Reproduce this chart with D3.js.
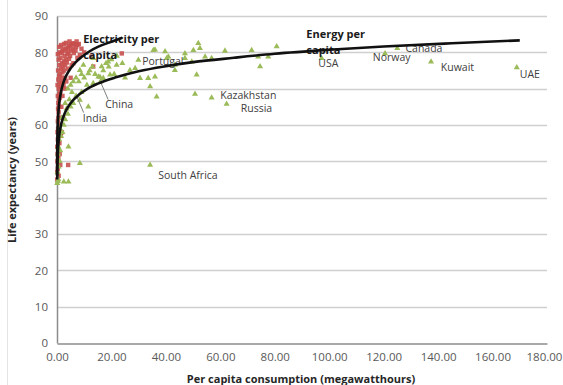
<!DOCTYPE html>
<html><head><meta charset="utf-8">
<script src="https://cdn.jsdelivr.net/npm/d3@7"></script>
<style>body{margin:0;background:#fff;}svg{display:block;}</style>
</head><body>
<svg id="c" width="563" height="385"></svg>
<script>
// ---- data ----
const xTicks = [0,20,40,60,80,100,120,140,160,180];
const yTicks = [0,10,20,30,40,50,60,70,80,90];

// Electricity per capita (MWh) vs life expectancy - red markers
const electricity = [
[0.05,45],[0.1,47],[0.15,50],[0.2,52],[0.1,54],[0.3,56],[0.2,58],[0.4,59],[0.3,61],[0.5,62],
[0.6,63.5],[0.4,64.5],[0.8,65],[0.5,66],[0.7,67],[1.0,67.5],[0.3,68],[0.9,68.5],[1.2,69],[0.6,70],
[1.4,70.5],[0.2,71],[1.0,71.5],[1.6,72],[0.5,72.5],[1.8,73],[0.8,73.5],[1.2,74],[2.0,74.5],[0.4,75],
[1.5,75.5],[2.2,76],[0.9,76.5],[1.8,77],[2.5,77.5],[0.6,78],[1.3,78.5],[2.8,79],[0.3,79.5],[1.0,80],
[2.0,80.3],[3.0,80.6],[3.5,81],[4.0,81.3],[4.5,81.7],[5.0,82],[5.5,82.3],[6.0,82.5],[6.5,82.2],[7.0,81.5],
[7.5,82],[3.2,78],[3.8,79.5],[4.2,80],[4.8,79],[5.2,80.5],[5.8,81],[6.2,79.8],[2.6,75],[3.0,76.5],
[3.6,77.2],[4.4,78.2],[2.4,71],[2.0,68],[1.6,65],[1.1,62],[0.7,60],[3.0,73],[2.8,70],[4.0,75.5],
[1.4,57],[0.9,55],[0.5,51],[1.2,49],[0.3,48],[4.1,49],[5.4,76.5],[8.4,79.3],[12.7,78.8],[13.3,76.1],
[23.8,79.7],[7.5,78.5],[6.8,80.5],[9.0,81],[8.0,82.3],[10.0,80],[5.0,73],[3.4,72],[6.0,77],[1.7,79.8],
[2.3,81],[0.8,81.5],[1.5,82],[2.6,82.3],[3.3,82.6],[4.6,83],[7.2,83],[2.2,62],[1.8,58],[0.6,46],[1.0,52]
];

// Energy per capita (MWh) vs life expectancy - green triangles
const energy = [
[0.1,44],[0.3,44.5],[0.5,45],[2.5,44.4],[4.2,44.4],[0.2,47],[0.6,48.5],[1.0,50],[8.4,49.5],[0.4,52],
[1.2,53],[0.5,54],[4.2,54],[0.8,56],[1.5,57],[2.0,58],[1.0,59],[2.5,60],[3.0,61.5],[1.8,62],
[4.0,63],[3.5,64.5],[5.0,65],[11.5,65],[8.4,66.9],[6.0,66],[4.5,67],[7.0,68],[9.0,69],[3.0,66],
[5.5,69],[4,70],[5,71],[6,72],[7,73],[8,72],[9,74],[10,73],[11,71],[12,75],
[13,76],[14,74],[15.8,73.2],[16,72],[17,75],[18,77],[19,76],[20,78],[21,74],[22,79],
[24,77],[25,73],[9.7,76.5],[13.3,78.4],[16.4,76.1],[18.8,77.4],[21.9,76.5],[15.2,73.3],[17,72.9],[11.5,74.2],
[8.4,75.1],[19.5,73.8],[13.3,71.5],[26.8,75.1],[28.7,75.6],[29.9,77.9],[30.5,72.9],[33.5,72.9],[36,73.3],[34.2,70.6],
[36.6,67.8],[35.4,80.6],[36,80.7],[39.7,80.2],[40.9,78.8],[40.3,78.4],[43.3,75.1],[43.3,76.5],[47,79.7],[47,78.4],
[49.5,77.4],[50.1,80.6],[51.9,82.5],[52.5,81.1],[51.3,73.8],[50.7,68.5],[54.4,78.8],[56.8,78.4],[61.7,80.4],[56.8,67.5],
[62.3,65.8],[71.5,80.6],[73.9,78.8],[77.6,78.8],[80.7,81.6],[74.6,76.1],[97.2,78.4],[120.5,79.7],[125,81.1],[137.4,77.4],
[168.9,75.8],[34.2,49]
];

// Trend lines
const elecTrend = [[0.02,46],[0.05,51.2],[0.1,54.9],[0.2,58.6],[0.35,61.5],[0.5,63.4],[0.75,65.6],[1,67.1],[1.5,69.2],[2,70.8],[3,73],[4,74.4],[5.5,76.1],[7,77.4],[9,78.7],[12,80.3],[15,81.5],[18,82.4],[21,83.2],[24,84]];
const energyTrend = [[0.07,45],[0.12,47.7],[0.2,50.2],[0.3,52.2],[0.5,54.7],[0.75,56.7],[1,58.1],[1.5,60.1],[2,61.5],[3,63.5],[4,64.9],[6,66.9],[8,68.3],[11,69.9],[15,71.4],[22,73.2],[30,74.8],[40,76.2],[50,77.3],[65,78.5],[80,79.6],[100,80.7],[120,81.6],[145,82.5],[170,83.3]];

const labels = [
  {t:"USA",x:96,y:76.0},{t:"Norway",x:116,y:77.6},{t:"Canada",x:128,y:80.2},
  {t:"Kuwait",x:141,y:75.0},{t:"UAE",x:170,y:72.8},{t:"Kazakhstan",x:60,y:67.2},
  {t:"Russia",x:67.5,y:63.6},{t:"South Africa",x:37.2,y:45.2},{t:"China",x:17.7,y:64.7},
  {t:"India",x:9.5,y:60.8},{t:"Portugal",x:31.3,y:76.6}
];

// ---- chart ----
const svg = d3.select("#c");
const x = d3.scaleLinear().domain([0,180]).range([57,547]);
const y = d3.scaleLinear().domain([0,90]).range([343,16]);

// outer frame hint
svg.append("line").attr("x1",7.5).attr("x2",7.5).attr("y1",0).attr("y2",385).attr("stroke","#e4e4e4");

// gridlines
svg.append("g").selectAll("line").data(yTicks.filter(d=>d>0)).join("line")
  .attr("x1",x(0)).attr("x2",x(180)).attr("y1",d=>Math.round(y(d))+0.5).attr("y2",d=>Math.round(y(d))+0.5)
  .attr("stroke","#cfcfcf").attr("stroke-width",1.5);

// axes
const xAxis = svg.append("g").attr("transform",`translate(0,${Math.round(y(0))+0.5})`)
  .call(d3.axisBottom(x).tickValues(xTicks).tickFormat(d3.format(".2f")).tickSize(0).tickPadding(9));
const yAxis = svg.append("g").attr("transform",`translate(${x(0)},0)`)
  .call(d3.axisLeft(y).tickValues(yTicks).tickSize(0).tickPadding(9));
[xAxis,yAxis].forEach(g=>{
  g.select(".domain").attr("stroke","#8c8c8c").attr("stroke-width",1.5);
  g.selectAll("text").attr("fill","#595959").style("font-family","'Open Sans', 'Liberation Sans', sans-serif").style("font-size","11.5px");
});
xAxis.selectAll(".tick").filter(d=>d===180).select("text").attr("dx","-3");

// points: red electricity squares
svg.append("g").selectAll("rect").data(electricity).join("rect")
  .attr("x",d=>x(d[0])-2.2).attr("y",d=>y(d[1])-2.2).attr("width",4.4).attr("height",4.4)
  .attr("fill","#c8504e").attr("opacity",0.9);

// points: green triangles
const tri = d3.symbol().type(d3.symbolTriangle).size(16);
svg.append("g").selectAll("path").data(energy).join("path")
  .attr("d",tri).attr("transform",d=>`translate(${x(d[0])},${y(d[1])})`)
  .attr("fill","#9bbb59");

// leader lines
const leaders = [[[15.8,72.2],[18.8,67.0]],[[7.4,67.6],[9.8,63.4]]];
svg.append("g").selectAll("line").data(leaders).join("line")
  .attr("x1",d=>x(d[0][0])).attr("y1",d=>y(d[0][1])).attr("x2",d=>x(d[1][0])).attr("y2",d=>y(d[1][1]))
  .attr("stroke","#7f7f7f").attr("stroke-width",1);

// labels
const lf = "'Open Sans', 'Liberation Sans', sans-serif";
svg.append("g").selectAll("text").data(labels).join("text")
  .attr("x",d=>x(d.x)).attr("y",d=>y(d.y)).text(d=>d.t)
  .attr("fill","#404040").style("font-family",lf).style("font-size","10.5px");

const bold = [
  {t:"Electricity per",x:9.6,y:82.6},{t:"capita",x:9.6,y:78.1},
  {t:"Energy per",x:91.6,y:84.0},{t:"capita",x:91.6,y:79.6}
];
svg.append("g").selectAll("text").data(bold).join("text")
  .attr("x",d=>x(d.x)).attr("y",d=>y(d.y)).text(d=>d.t)
  .attr("fill","#1a1a1a").style("font-family",lf).style("font-size","11px").style("font-weight","bold");

// trend curves
const line = d3.line().x(d=>x(d[0])).y(d=>y(d[1])).curve(d3.curveMonotoneX);
svg.append("path").datum(elecTrend).attr("d",line).attr("fill","none").attr("stroke","#111").attr("stroke-width",2.6);
svg.append("path").datum(energyTrend).attr("d",line).attr("fill","none").attr("stroke","#111").attr("stroke-width",2.6);

// axis titles
svg.append("text").attr("transform","translate(16,180) rotate(-90)").attr("text-anchor","middle")
  .text("Life expectancy (years)").attr("fill","#262626").style("font-family",lf).style("font-size","11px").style("font-weight","bold");
svg.append("text").attr("x",301).attr("y",383).attr("text-anchor","middle")
  .text("Per capita consumption (megawatthours)").attr("fill","#262626").style("font-family",lf).style("font-size","11px").style("font-weight","bold");
</script>
</body></html>
